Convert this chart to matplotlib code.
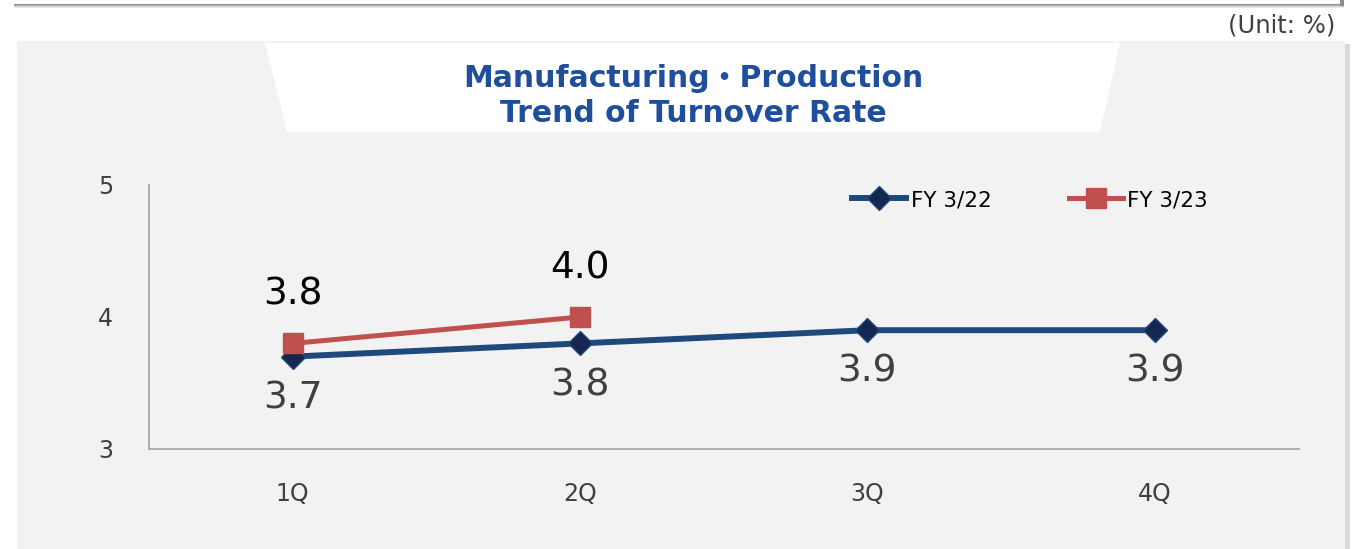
import matplotlib
matplotlib.use("Agg")
import matplotlib.pyplot as plt
from matplotlib.patches import Rectangle, Polygon

# data
quarters = ["1Q", "2Q", "3Q", "4Q"]
fy22 = [3.7, 3.8, 3.9, 3.9]
fy23 = [3.8, 4.0]
series_names = ["FY 3/22", "FY 3/23"]
title_text = "Manufacturing\u30fbProduction\nTrend of Turnover Rate"

W, H = 1360, 549
fig = plt.figure(figsize=(W / 100, H / 100), dpi=100)
fig.patch.set_facecolor("white")


def px(x, y):
    # pixel coords (top-left origin) -> figure fraction
    return x / W, 1 - y / H


def box(x0, y0, x1, y1, **kw):
    # rectangle given by pixel corners (top-left, bottom-right)
    fig.patches.append(Rectangle(px(x0, y1), (x1 - x0) / W, (y1 - y0) / H,
                                 transform=fig.transFigure, lw=0, **kw))


# top white box with a soft shadow
for i, a in enumerate([0.45, 0.3, 0.18, 0.08]):
    box(14, 4 + i, 1344, 5 + i, color="black", alpha=a, zorder=0)
box(1340, 0, 1344, 6, color="#8c8c8c", zorder=0)
box(8, 0, 1340, 4, color="white", zorder=1)

# grey panel with light shadow on the right
box(20, 44, 1350, 549, color="#d9d9d9", zorder=0)
box(17, 41, 1345, 549, color="#f2f2f2", zorder=1)

# white trapezoid behind the title
trap = [px(265, 43), px(1120, 43), px(1100, 132), px(287, 132)]
fig.patches.append(Polygon(trap, closed=True, transform=fig.transFigure,
                           facecolor="white", edgecolor="none", zorder=2))

fig.text(*px(1335, 26), "(Unit: %)", ha="right", va="center", fontsize=17.5,
         color="#404040")
fig.text(*px(693, 96), title_text, ha="center", va="center", fontsize=21.5,
         fontweight="bold", color="#1f4e9c", linespacing=1.3, zorder=3,
         family=["DejaVu Sans", "Noto Sans CJK JP"])

l, b = px(149, 449)
r, t = px(1298.5, 185)
ax = fig.add_axes([l, b, r - l, t - b])
ax.set_facecolor("none")
ax.set_zorder(5)

x22 = list(range(len(fy22)))
x23 = list(range(len(fy23)))
ax.plot(x22, fy22, color="#1f497d", lw=4.3, marker="D", markersize=12,
        markerfacecolor="#15264f", markeredgecolor="#1f497d", markeredgewidth=1,
        label=series_names[0], zorder=3)
ax.plot(x23, fy23, color="#c0504d", lw=3.6, marker="s", markersize=14,
        markerfacecolor="#c0504d", markeredgecolor="#c0504d",
        label=series_names[1], zorder=4)

for x, v in zip(x22, fy22):
    ax.annotate(f"{v:.1f}", (x, v), xytext=(0, -30), textcoords="offset points",
                ha="center", va="center", fontsize=27, color="#404040")
for x, v in zip(x23, fy23):
    ax.annotate(f"{v:.1f}", (x, v), xytext=(0, 35), textcoords="offset points",
                ha="center", va="center", fontsize=27, color="black")

ax.set_xlim(-0.5, 3.5)
ax.set_ylim(3, 5)
ax.set_yticks([3, 4, 5])
ax.set_xticks(x22)
ax.set_xticklabels(quarters)
ax.tick_params(axis="both", length=0, labelsize=17, colors="#404040")
ax.tick_params(axis="y", pad=26)
ax.tick_params(axis="x", pad=24)
for side in ["top", "right"]:
    ax.spines[side].set_visible(False)
for side in ["left", "bottom"]:
    ax.spines[side].set_color("#a6a6a6")
    ax.spines[side].set_linewidth(1.3)

leg = ax.legend(loc="center", bbox_to_anchor=px(1030, 200),
                bbox_transform=fig.transFigure, ncol=2, frameon=False,
                fontsize=15.5, handlelength=2.5, handletextpad=0.2,
                columnspacing=3.6)
for txt in leg.get_texts():
    txt.set_color("black")

fig.savefig("out.png", dpi=100, facecolor=fig.get_facecolor())
